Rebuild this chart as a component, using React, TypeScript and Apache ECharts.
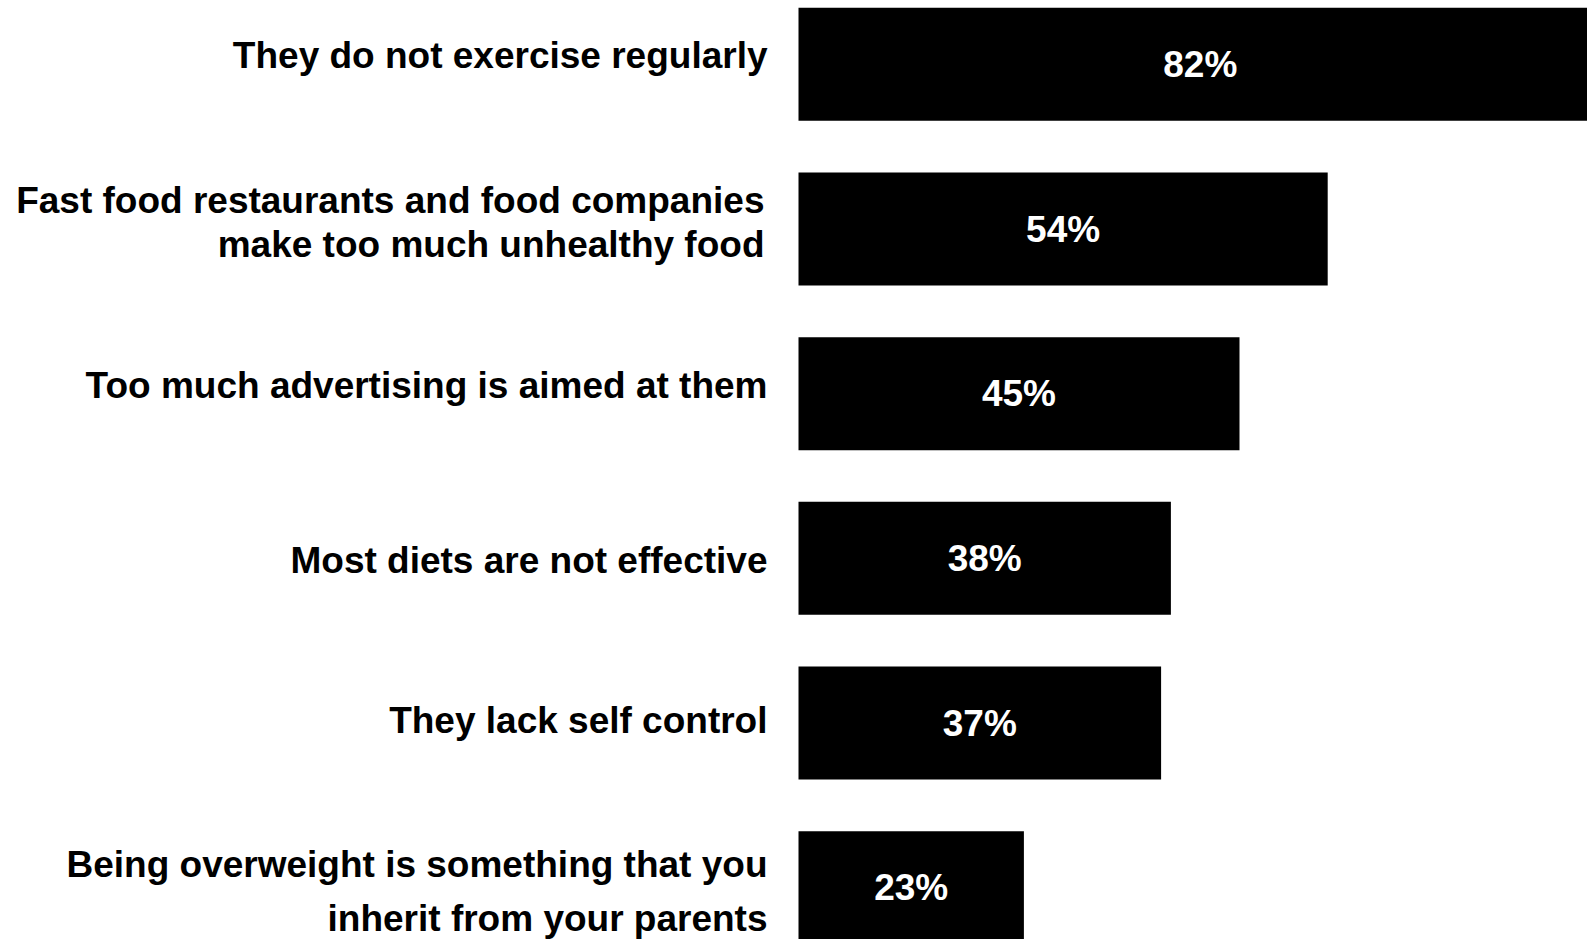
import React, { useEffect, useRef } from "react";
import * as echarts from "echarts";

const categories: string[] = [
  "They do not exercise regularly",
  "Fast food restaurants and food companies\nmake too much unhealthy food",
  "Too much advertising is aimed at them",
  "Most diets are not effective",
  "They lack self control",
  "Being overweight is something that you\ninherit from your parents",
];

const values: number[] = [82, 54, 45, 38, 37, 23];

// vertical nudge of each category label (px, negative = up), right inset and line heights
const labelNudge: number[] = [-9, -7, -8, 2, -3, 4];
const labelRightInset: number[] = [0, 3, 0, 0, 0, 0];
const labelLineHeight: number[] = [44, 44, 44, 44, 44, 54];

const FONT = "'Liberation Sans', Arial, Helvetica, sans-serif";

export default function App() {
  const ref = useRef<HTMLDivElement>(null);

  useEffect(() => {
    if (!ref.current) return;
    const chart = echarts.init(ref.current, undefined, { renderer: "svg" });

    const rich: Record<string, any> = {};
    categories.forEach((_, i) => {
      const d = labelNudge[i];
      const r = labelRightInset[i];
      rich["n" + i] = {
        color: "#000000",
        fontFamily: FONT,
        fontWeight: "bold",
        fontSize: 37,
        lineHeight: labelLineHeight[i],
        align: "right",
        padding: d < 0 ? [0, r, -2 * d, 0] : [2 * d, r, 0, 0],
      };
    });

    chart.setOption({
      animation: false,
      backgroundColor: "#ffffff",
      grid: {
        left: 798.5,
        top: 0,
        width: 980,
        height: 988,
        containLabel: false,
      },
      xAxis: {
        type: "value",
        min: 0,
        max: 100,
        show: false,
        splitLine: { show: false },
      },
      yAxis: {
        type: "category",
        inverse: true,
        data: categories,
        axisLine: { show: false },
        axisTick: { show: false },
        splitLine: { show: false },
        axisLabel: {
          interval: 0,
          margin: 31,
          color: "#000000",
          fontFamily: FONT,
          fontWeight: "bold",
          fontSize: 37,
          align: "right",
          formatter: (value: string, idx: number) =>
            value
              .split("\n")
              .map((line) => `{n${idx}|${line}}`)
              .join("\n"),
          rich,
        },
      },
      series: [
        {
          type: "bar",
          data: values,
          barWidth: 113,
          itemStyle: { color: "#000000" },
          label: {
            show: true,
            position: "inside",
            formatter: "{c}%",
            color: "#ffffff",
            fontFamily: FONT,
            fontWeight: "bold",
            fontSize: 37,
          },
        },
      ],
    });

    return () => chart.dispose();
  }, []);

  return (
    <div
      style={{
        position: "fixed",
        left: 0,
        top: 0,
        right: 0,
        bottom: 0,
        overflow: "hidden",
        background: "#ffffff",
      }}
    >
      <div
        ref={ref}
        style={{
          position: "absolute",
          left: 0,
          top: -18,
          width: 1790,
          height: 990,
        }}
      />
    </div>
  );
}
